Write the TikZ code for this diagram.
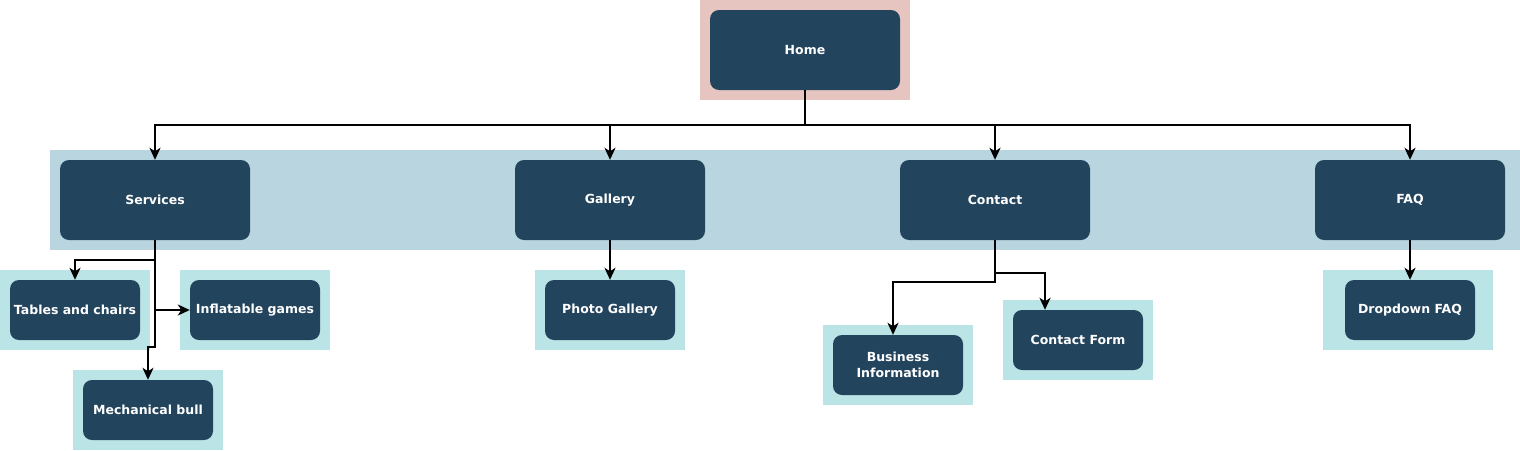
\documentclass[tikz,border=0pt]{standalone}
\usepackage{fontspec}
\setmainfont{DejaVu Sans}
\usetikzlibrary{arrows.meta}
\definecolor{navy}{HTML}{23445D}
\definecolor{rose}{HTML}{E6C5C1}
\definecolor{band}{HTML}{B8D5E0}
\definecolor{pale}{HTML}{BAE4E6}

\begin{document}
\begin{tikzpicture}[x=1pt, y=-1pt,
    page/.style={fill=navy, rounded corners=9pt, text=white, align=center,
        font=\bfseries\fontsize{12.5}{16.5}\selectfont,
        minimum width=190pt, minimum height=80pt, inner sep=0pt},
    subpage/.style={page, minimum width=130pt, minimum height=60pt},
    arr/.style={-{Stealth[length=12pt, width=11pt, inset=3.5pt]}, line width=2pt}]
    \useasboundingbox (0,0) rectangle (1520,450);
    \fill[rose] (700,0) rectangle (910,100);
    \fill[band] (50,150) rectangle (1520,250);
    \fill[pale] (0,270) rectangle (150,350);
    \fill[pale] (180,270) rectangle (330,350);
    \fill[pale] (73,370) rectangle (223,450);
    \fill[pale] (535,270) rectangle (685,350);
    \fill[pale] (823,325) rectangle (973,405);
    \fill[pale] (1003,300) rectangle (1153,380);
    \fill[pale] (1323,270) rectangle (1493,350);
    \node[page] (home) at (805,50) {Home};
    \node[page] (services) at (155,200) {Services};
    \node[page] (gallery) at (610,200) {Gallery};
    \node[page] (contact) at (995,200) {Contact};
    \node[page] (faq) at (1410,200) {FAQ};
    \node[subpage] (tables) at (75,310) {Tables and chairs};
    \node[subpage] (games) at (255,310) {Inflatable games};
    \node[subpage] (bull) at (148,410) {Mechanical bull};
    \node[subpage] (photo) at (610,310) {Photo Gallery};
    \node[subpage] (business) at (898,365) {Business\\Information};
    \node[subpage] (form) at (1078,340) {Contact Form};
    \node[subpage] (dropdown) at (1410,310) {Dropdown FAQ};
    \draw[arr] (home.south) -- ++(0,35) -| (services.north);
    \draw[arr] (home.south) -- ++(0,35) -| (gallery.north);
    \draw[arr] (home.south) -- ++(0,35) -| (contact.north);
    \draw[arr] (home.south) -- ++(0,35) -| (faq.north);
    \draw[arr] (services.south) -- ++(0,20) -| (tables.north);
    \draw[arr] (services.south) |- (games.west);
    \draw[arr] (services.south) -- ++(0,107) -| (bull.north);
    \draw[arr] (gallery) -- (photo);
    \draw[arr] (contact.south) -- ++(0,42) -| ([xshift=-5pt]business.north);
    \draw[arr] (contact.south) -- ++(0,33) -| ([xshift=-33pt]form.north);
    \draw[arr] (faq) -- (dropdown);
\end{tikzpicture}
\end{document}
